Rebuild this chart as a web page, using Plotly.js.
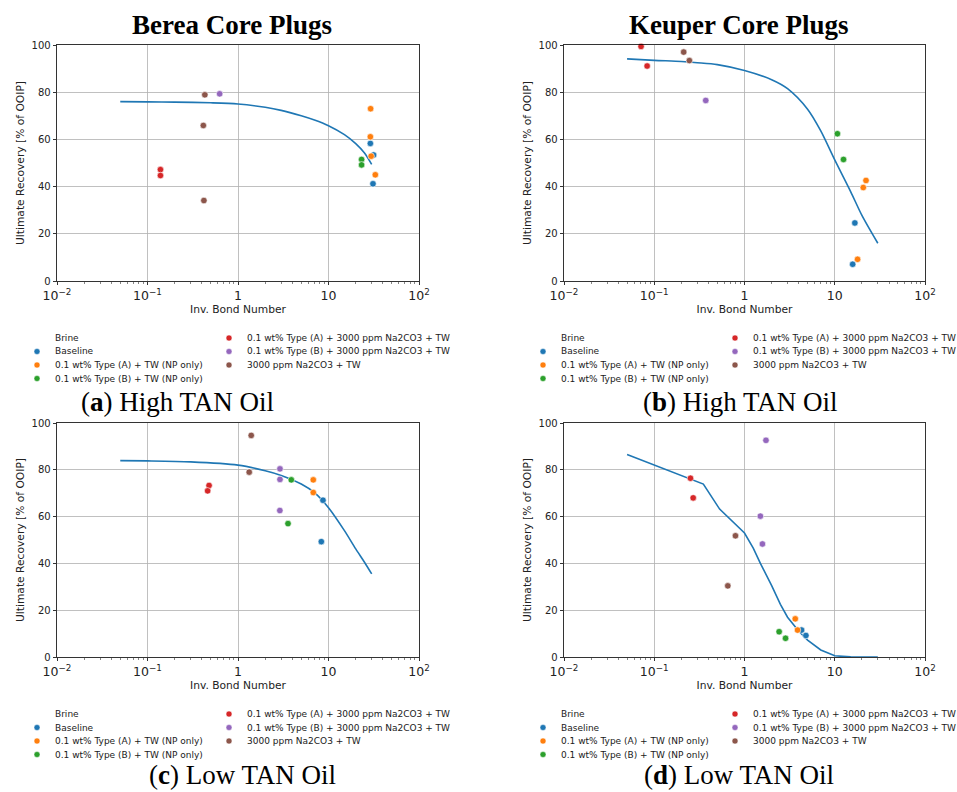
<!DOCTYPE html>
<html><head><meta charset="utf-8">
<script src="https://cdn.plot.ly/plotly-3.0.1.min.js"></script>
<style>html,body{margin:0;padding:0;background:#fff}#chart{width:957px;height:792px}</style>
</head><body><div id="chart"></div>
<script>
// ---------- categories / labels ----------
const hueTitle = "Brine";
const categories = [
  "Baseline",
  "0.1 wt% Type (A) + TW (NP only)",
  "0.1 wt% Type (B) + TW (NP only)",
  "0.1 wt% Type (A) + 3000 ppm Na2CO3 + TW",
  "0.1 wt% Type (B) + 3000 ppm Na2CO3 + TW",
  "3000 ppm Na2CO3 + TW"
];
const columnTitles = ["Berea Core Plugs", "Keuper Core Plugs"];
const captions = ["(<b>a</b>) High TAN Oil", "(<b>b</b>) High TAN Oil", "(<b>c</b>) Low TAN Oil", "(<b>d</b>) Low TAN Oil"];
const xAxisTitle = "Inv. Bond Number";
const yAxisTitle = "Ultimate Recovery [% of OOIP]";

// ---------- panel (a) Berea, High TAN ----------
const aX   = [29.0, 31.0, 31.5, 29.2, 29.0, 29.6, 32.9, 23.2, 23.2, 0.139, 0.139, 0.627, 0.43, 0.414, 0.42];
const aY   = [58.3, 41.2, 53.4, 73.0, 61.1, 52.9, 45.0, 51.5, 49.2, 47.2, 44.7, 79.3, 78.9, 65.9, 34.1];
const aCat = [0, 0, 0, 1, 1, 1, 1, 2, 2, 3, 3, 4, 5, 5, 5];
const aFitX = [0.05, 0.1, 0.2, 0.5, 1, 2, 3, 5, 7, 10, 15, 20, 25, 30];
const aFitY = [76.0, 75.9, 75.8, 75.5, 75.0, 73.6, 72.3, 70.0, 68.2, 65.8, 62.0, 58.2, 54.2, 49.4];

// ---------- panel (b) Keuper, High TAN ----------
const bX   = [16.7, 15.8, 22.2, 20.7, 17.9, 10.7, 12.5, 0.0714, 0.0834, 0.372, 0.212, 0.245];
const bY   = [24.6, 7.1, 42.6, 39.6, 9.2, 62.4, 51.5, 99.4, 91.1, 76.5, 97.0, 93.4];
const bCat = [0, 0, 1, 1, 1, 2, 2, 3, 3, 4, 5, 5];
const bFitX = [0.05, 0.1, 0.2, 0.3, 0.5, 1, 2, 3, 5, 7, 10, 15, 20, 30];
const bFitY = [94.1, 93.5, 93.0, 92.5, 91.7, 89.2, 85.3, 81.5, 72.8, 63.6, 51.3, 37.9, 27.8, 16.0];

// ---------- panel (c) Berea, Low TAN ----------
const cX   = [8.69, 8.33, 6.79, 6.79, 3.88, 3.57, 0.479, 0.462, 2.91, 2.91, 2.90, 1.40, 1.33];
const cY   = [67.0, 49.3, 75.7, 70.3, 75.7, 57.0, 73.3, 71.0, 80.4, 75.9, 62.6, 94.7, 79.0];
const cCat = [0, 0, 1, 1, 2, 2, 3, 3, 4, 4, 4, 5, 5];
const cFitX = [0.05, 0.1, 0.3, 1, 2, 3, 5, 7, 10, 15, 20, 25, 30];
const cFitY = [83.9, 83.8, 83.4, 82.0, 79.6, 77.6, 73.9, 70.2, 63.8, 54.0, 46.2, 40.5, 35.5];

// ---------- panel (d) Keuper, Low TAN ----------
const dX   = [4.29, 4.79, 3.65, 3.87, 2.42, 2.85, 0.252, 0.270, 1.73, 1.50, 1.58, 0.794, 0.653];
const dY   = [11.5, 9.2, 16.3, 11.5, 10.8, 8.0, 76.4, 68.0, 92.6, 60.2, 48.3, 51.8, 30.4];
const dCat = [0, 0, 1, 1, 2, 2, 3, 3, 4, 4, 4, 5, 5];
const dFitX = [0.05, 0.35, 0.53, 0.7, 1, 1.25, 1.5, 2, 2.5, 3, 4, 5, 7, 10, 15, 30];
const dFitY = [86.5, 73.9, 63.2, 58.8, 53.0, 46.5, 40.0, 30.5, 22.5, 17.0, 11.0, 7.2, 3.0, 0.5, 0.05, 0.0];

// ---------- styles ----------
const palette = ['#1f77b4', '#ff7f0e', '#2ca02c', '#d62728', '#9467bd', '#8c564b'];
const lineShapes = ['spline', 'spline', 'spline', 'linear'];
const W = 957, H = 792;
const px = v => v / W, py = v => 1 - v / H;

const panels = [
  {x: aX, y: aY, c: aCat, fx: aFitX, fy: aFitY},
  {x: bX, y: bY, c: bCat, fx: bFitX, fy: bFitY},
  {x: cX, y: cY, c: cCat, fx: cFitX, fy: cFitY},
  {x: dX, y: dY, c: dCat, fx: dFitX, fy: dFitY}
];
const colX = [[57, 419], [564, 925]];
const rowY = [[45, 281], [423, 657]];

const traces = [];
const layout = {
  width: W, height: H,
  margin: {l: 0, r: 0, t: 0, b: 0},
  paper_bgcolor: '#fff', plot_bgcolor: '#fff',
  showlegend: false,
  annotations: [], shapes: []
};
const tickFont = {family: 'DejaVu Sans', size: 10, color: '#222'};
const titleFont = {family: 'DejaVu Sans', size: 10.7, color: '#222'};

panels.forEach((p, i) => {
  const s = i === 0 ? '' : String(i + 1);
  const col = i % 2, row = Math.floor(i / 2);
  traces.push({
    type: 'scatter', mode: 'lines', x: p.fx, y: p.fy,
    xaxis: 'x' + s, yaxis: 'y' + s,
    line: {color: palette[0], width: 1.6, shape: lineShapes[i], smoothing: 0.8},
    hoverinfo: 'skip', cliponaxis: false
  });
  categories.forEach((name, k) => {
    const xs = [], ys = [];
    p.c.forEach((c, j) => { if (c === k) { xs.push(p.x[j]); ys.push(p.y[j]); } });
    traces.push({
      type: 'scatter', mode: 'markers', name: name, x: xs, y: ys,
      xaxis: 'x' + s, yaxis: 'y' + s, cliponaxis: false,
      marker: {color: palette[k], size: 6.5, line: {color: '#fff', width: 0.6}}
    });
  });
  layout['xaxis' + s] = {
    type: 'log', range: [-2, 2], dtick: 1, exponentformat: 'power',
    domain: [px(colX[col][0]), px(colX[col][1])],
    anchor: 'y' + s,
    showgrid: true, gridcolor: '#b0b0b0', gridwidth: 0.8,
    showline: true, linecolor: '#000', linewidth: 0.8, mirror: true,
    ticks: 'outside', ticklen: 3.5, tickwidth: 0.8, tickcolor: '#000',
    tickfont: tickFont, zeroline: false,
    minor: {ticks: 'outside', ticklen: 2.5, tickwidth: 0.6, tickcolor: '#333', dtick: 'D1', showgrid: false},
    title: {text: xAxisTitle, font: titleFont, standoff: 3}
  };
  layout['yaxis' + s] = {
    range: [0, 100], dtick: 20,
    domain: [py(rowY[row][1]), py(rowY[row][0])],
    anchor: 'x' + s,
    showgrid: true, gridcolor: '#b0b0b0', gridwidth: 0.8,
    showline: true, linecolor: '#000', linewidth: 0.8, mirror: true,
    ticks: 'outside', ticklen: 3.5, tickwidth: 0.8, tickcolor: '#000',
    tickfont: tickFont, zeroline: false,
    title: {text: yAxisTitle, font: titleFont, standoff: 4}
  };
});

// column titles
const titleCenters = [232, 739];
columnTitles.forEach((t, i) => layout.annotations.push({
  text: '<b>' + t + '</b>', xref: 'paper', yref: 'paper', x: px(titleCenters[i]), y: py(25),
  xanchor: 'center', yanchor: 'middle', showarrow: false,
  font: {family: 'Liberation Serif', size: 27, color: '#000'}
}));
// captions
const capPos = [[177, 402], [740, 402], [242, 775], [739, 775]];
captions.forEach((t, i) => layout.annotations.push({
  text: t, xref: 'paper', yref: 'paper', x: px(capPos[i][0]), y: py(capPos[i][1]),
  xanchor: 'center', yanchor: 'middle', showarrow: false,
  font: {family: 'Liberation Serif', size: 27, color: '#000'}
}));
// legends (two columns below each panel)
const legOrigin = [[37, 338], [543, 338], [37, 714], [543, 714]];
const legFont = {family: 'DejaVu Sans', size: 9, color: '#1a1a1a'};
legOrigin.forEach(([lx, ly]) => {
  const colA = [{label: hueTitle, k: -1}, {label: categories[0], k: 0}, {label: categories[1], k: 1}, {label: categories[2], k: 2}];
  const colB = [{label: categories[3], k: 3}, {label: categories[4], k: 4}, {label: categories[5], k: 5}];
  [[colA, 0], [colB, 192]].forEach(([items, dx]) => {
    items.forEach((it, r) => {
      const yy = ly + r * 13.5;
      layout.annotations.push({
        text: it.label, xref: 'paper', yref: 'paper', x: px(lx + dx + 16), y: py(yy),
        xanchor: 'left', yanchor: 'middle', showarrow: false, font: legFont
      });
      if (it.k >= 0) layout.shapes.push({
        type: 'circle', xref: 'paper', yref: 'paper',
        xsizemode: 'pixel', ysizemode: 'pixel',
        xanchor: px(lx + dx), yanchor: py(yy), x0: -3, x1: 3, y0: -3, y1: 3,
        fillcolor: palette[it.k], line: {color: '#fff', width: 0.5}
      });
    });
  });
});

Plotly.newPlot('chart', traces, layout, {displayModeBar: false, staticPlot: true});
</script>
</body></html>
